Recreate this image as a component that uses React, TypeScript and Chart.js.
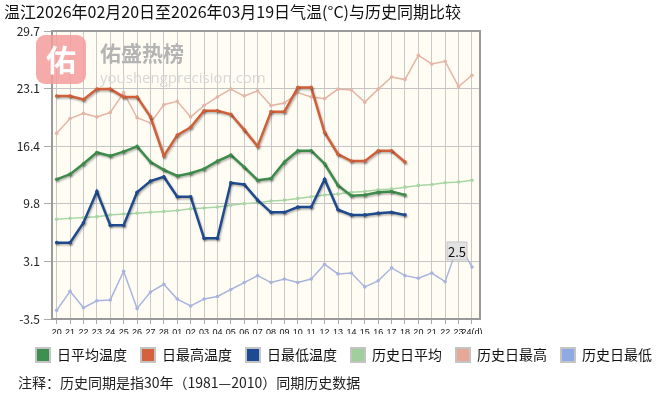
import React, { useEffect, useRef } from "react";
import { Chart, registerables } from "chart.js";

Chart.register(...registerables);

const FONT = "'Noto Sans CJK SC', 'Noto Sans', sans-serif";

const titleText = "温江2026年02月20日至2026年03月19日气温(°C)与历史同期比较";
const noteText = "注释：历史同期是指30年（1981—2010）同期历史数据";

const xLabels = [
  "20", "21", "22", "23", "24", "25", "26", "27", "28",
  "01", "02", "03", "04", "05", "06", "07", "08", "09", "10", "11", "12",
  "13", "14", "15", "16", "17", "18", "20", "21", "22", "23", "24(d)",
];
const yTicks = [-3.5, 3.1, 9.8, 16.4, 23.1, 29.7];

const dailyAvg = [12.6, 13.2, 14.4, 15.7, 15.3, 15.8, 16.4, 14.6, 13.7, 13.0, 13.3, 13.8, 14.7, 15.4, 14.0, 12.5, 12.7, 14.6, 15.9, 15.9, 14.4, 11.9, 10.7, 10.8, 11.1, 11.2, 10.8];
const dailyHigh = [22.2, 22.2, 21.8, 23.0, 23.0, 22.1, 22.1, 19.8, 15.3, 17.7, 18.6, 20.5, 20.5, 20.1, 18.3, 16.4, 20.4, 20.4, 23.2, 23.2, 18.0, 15.5, 14.7, 14.7, 15.9, 15.9, 14.6];
const dailyLow = [5.3, 5.3, 7.6, 11.2, 7.3, 7.3, 11.1, 12.4, 12.9, 10.6, 10.6, 5.8, 5.8, 12.2, 12.0, 10.2, 8.8, 8.8, 9.4, 9.4, 12.6, 9.1, 8.5, 8.5, 8.7, 8.8, 8.5];
const histAvg = [8.0, 8.1, 8.2, 8.3, 8.5, 8.6, 8.7, 8.8, 8.9, 9.0, 9.2, 9.3, 9.4, 9.6, 9.8, 9.9, 10.1, 10.2, 10.4, 10.6, 10.8, 10.9, 11.1, 11.2, 11.4, 11.5, 11.7, 11.9, 12.0, 12.2, 12.3, 12.5];
const histHigh = [17.9, 19.6, 20.2, 19.8, 20.3, 22.6, 19.7, 19.1, 21.2, 21.6, 19.8, 21.1, 22.1, 23.0, 22.2, 22.8, 21.1, 21.4, 22.6, 22.1, 21.9, 23.0, 22.9, 21.5, 23.0, 24.4, 24.1, 26.9, 25.9, 26.2, 23.3, 24.6];
const histLow = [-2.5, -0.3, -2.2, -1.4, -1.3, 2.0, -2.3, -0.4, 0.5, -1.2, -2.0, -1.2, -0.9, -0.1, 0.7, 1.5, 0.7, 1.1, 0.7, 1.1, 2.8, 1.7, 1.8, 0.2, 0.9, 2.4, 1.5, 1.2, 1.8, 0.8, 5.2, 2.5];

const seriesNames = ["日平均温度", "日最高温度", "日最低温度", "历史日平均", "历史日最高", "历史日最低"];
const lineColors = ["#3e8c4c", "#d0603a", "#1f4a8e", "#a9d5a5", "#e4b4a6", "#a9b4de"];
const legendColors = ["#3f8f50", "#d4623c", "#1c4b94", "#9fd09c", "#e8a898", "#8fa9e3"];

const toPoints = (arr: number[]) => arr.map((v, i) => ({ x: i, y: v }));

const decorPlugin = {
  id: "decor",
  beforeDraw(chart: any) {
    const { ctx, chartArea: a } = chart;
    ctx.save();
    ctx.fillStyle = "#fffdf3";
    ctx.fillRect(a.left, a.top, a.right - a.left, a.bottom - a.top);
    ctx.restore();
  },
  beforeDatasetDraw(chart: any, args: any) {
    if (args.index < 3) {
      const ctx = chart.ctx;
      ctx.save();
      ctx.shadowColor = "rgba(0,0,0,0.3)";
      ctx.shadowBlur = 2;
      ctx.shadowOffsetX = 1;
      ctx.shadowOffsetY = 1.5;
    }
  },
  afterDatasetDraw(chart: any, args: any) {
    if (args.index < 3) chart.ctx.restore();
  },
  afterDraw(chart: any) {
    const { ctx, chartArea: a } = chart;
    ctx.save();
    // plot frame
    ctx.strokeStyle = "#9a9a9a";
    ctx.lineWidth = 2;
    ctx.strokeRect(a.left, a.top, a.right - a.left, a.bottom - a.top);

    // title
    ctx.fillStyle = "#111";
    ctx.font = `16px ${FONT}`;
    ctx.textBaseline = "middle";
    ctx.textAlign = "left";
    ctx.fillText(titleText, 4, 12);

    // note
    ctx.font = `14px ${FONT}`;
    ctx.fillStyle = "#222";
    ctx.fillText(noteText, 18, 383);

    // watermark
    ctx.globalAlpha = 0.85;
    ctx.fillStyle = "#f59c9c";
    ctx.beginPath();
    (ctx as any).roundRect(a.left - 16, a.top + 4, 50, 49, 9);
    ctx.fill();
    ctx.globalAlpha = 1;
    ctx.fillStyle = "#ffffff";
    ctx.font = `bold 30px ${FONT}`;
    ctx.textAlign = "center";
    ctx.fillText("佑", a.left + 9, a.top + 29);
    ctx.textAlign = "left";
    ctx.fillStyle = "#b4b4b4";
    ctx.font = `bold 21px ${FONT}`;
    ctx.fillText("佑盛热榜", a.left + 48, a.top + 22);
    ctx.fillStyle = "#d6d6d6";
    ctx.font = `15px 'Open Sans', 'Noto Sans', sans-serif`;
    ctx.fillText("youshengprecision.com", a.left + 48, a.top + 48);

    // value label on the historical low series
    const meta = chart.getDatasetMeta(5);
    const pt = meta.data[meta.data.length - 1];
    if (pt) {
      const cx = pt.x - 15;
      const cy = pt.y - 16;
      ctx.fillStyle = "#e2e2e2";
      ctx.strokeStyle = "#c8c8c8";
      ctx.lineWidth = 1;
      ctx.fillRect(cx - 10, cy - 9, 20, 18);
      ctx.strokeRect(cx - 10, cy - 9, 20, 18);
      ctx.fillStyle = "#111";
      ctx.font = `13px ${FONT}`;
      ctx.textAlign = "center";
      ctx.textBaseline = "middle";
      ctx.fillText(String(histLow[histLow.length - 1]), cx, cy + 1);
    }
    ctx.restore();
  },
};

export default function App() {
  const ref = useRef<HTMLCanvasElement | null>(null);

  useEffect(() => {
    if (!ref.current) return;
    const series = [dailyAvg, dailyHigh, dailyLow, histAvg, histHigh, histLow];
    const chart = new Chart(ref.current, {
      type: "line",
      data: {
        datasets: series.map((arr, i) => ({
          label: seriesNames[i],
          data: toPoints(arr),
          borderColor: lineColors[i],
          backgroundColor: lineColors[i],
          pointBackgroundColor: lineColors[i],
          pointBorderColor: lineColors[i],
          borderWidth: i < 3 ? 2.5 : 1.5,
          pointRadius: 1.8,
          pointBorderWidth: 0,
          tension: 0,
          fill: false,
        })),
      },
      options: {
        responsive: false,
        animation: false,
        events: [],
        layout: { padding: { left: 10, right: -20, top: 31, bottom: 24 } },
        scales: {
          x: {
            type: "linear",
            min: -0.35,
            max: 31.6,
            afterBuildTicks: (axis: any) => {
              axis.ticks = xLabels.map((_, i) => ({ value: i }));
            },
            afterFit: (s: any) => {
              s.height = 15;
            },
            ticks: {
              autoSkip: false,
              minRotation: 0,
              maxRotation: 0,
              padding: 3,
              color: "#111",
              font: { size: 9, family: "'Liberation Sans', sans-serif" },
              callback: (v: any) => xLabels[v] ?? "",
            },
            grid: { color: "#c9c9c9", tickLength: 5, tickColor: "#aaa", lineWidth: 1 },
            border: { display: true, color: "#9a9a9a", width: 2 },
          },
          y: {
            type: "linear",
            min: -3.5,
            max: 29.7,
            afterBuildTicks: (axis: any) => {
              axis.ticks = yTicks.map((v) => ({ value: v }));
            },
            afterFit: (s: any) => {
              s.width = 42;
            },
            ticks: {
              padding: 4,
              color: "#222",
              font: { size: 12, family: FONT },
              callback: (v: any) => Number(v).toFixed(1),
            },
            grid: { color: "#c4c4c4", tickLength: 8, tickColor: "#aaa", lineWidth: 1 },
            border: { display: true, color: "#9a9a9a", width: 2 },
          },
          yR: {
            type: "linear",
            position: "right",
            display: true,
            min: 0,
            max: 1,
            afterFit: (s: any) => {
              s.width = 198;
            },
            ticks: { display: false },
            grid: { display: false, drawTicks: false },
            border: { display: false },
          },
        },
        plugins: {
          title: { display: false },
          tooltip: { enabled: false },
          legend: {
            display: true,
            position: "bottom",
            align: "center",
            labels: {
              boxWidth: 14,
              boxHeight: 14,
              padding: 14,
              color: "#111",
              font: { size: 14, family: FONT },
              generateLabels: (c: any) =>
                c.data.datasets.map((ds: any, i: number) => ({
                  text: ds.label,
                  fillStyle: legendColors[i],
                  strokeStyle: "#c4c4c4",
                  lineWidth: 2,
                  hidden: false,
                  datasetIndex: i,
                  fontColor: "#111",
                })),
            },
          },
        },
      },
      plugins: [decorPlugin],
    } as any);
    return () => chart.destroy();
  }, []);

  return (
    <div style={{ position: "fixed", left: 0, top: 0, width: 658, height: 396, background: "#fff" }}>
      <canvas ref={ref} width={658} height={396} style={{ display: "block", width: 658, height: 396 }} />
    </div>
  );
}
